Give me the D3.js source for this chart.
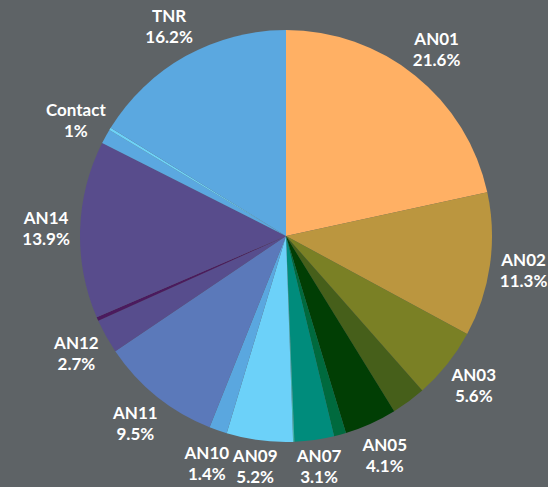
<!DOCTYPE html>
<html>
  <head>
    <meta charset="utf-8">
    <script src="https://d3js.org/d3.v7.min.js"></script>
    <style>
body {
  margin: 0;
  background: #5e6366;
}
#chart text {
  font-family: Lato, "Open Sans", sans-serif;
  font-weight: 700;
  font-size: 17px;
  fill: #fff;
}
    </style>
  </head>
  <body>
    <svg id="chart" width="548" height="487"></svg>
    <script>
// slices, clockwise from 12 o'clock
var categories = ["AN01", "AN02", "AN03", "AN04", "AN05", "AN06", "AN07", "AN08",
                  "AN09", "AN10", "AN11", "AN12", "AN13", "AN14", "Contact", "Other", "TNR"];
var values = [21.6, 11.3, 5.6, 2.7, 4.1, 0.95, 3.1, 0.1,
              5.2, 1.4, 9.5, 2.7, 0.3, 13.9, 1.15, 0.2, 16.2];
// text shown under each name (null = no label drawn)
var percentLabels = ["21.6%", "11.3%", "5.6%", null, "4.1%", null, "3.1%", null,
                     "5.2%", "1.4%", "9.5%", "2.7%", null, "13.9%", "1%", null, "16.2%"];
var colors = ["#ffb064", "#bb963f", "#7a8025", "#465f1a", "#013e04", "#006a3e", "#008c7c", "#3fb3a6",
              "#6cd1f9", "#5aa7df", "#5b79ba", "#574d8d", "#4b1a5e", "#584c8c", "#5ba8e0", "#6dd3f8", "#5ba8e0"];

var width = 548, height = 487,
    cx = 286, cy = 236,
    radius = 206,
    labelRadius = 240;

var svg = d3.select("#chart");
var g = svg.append("g").attr("transform", "translate(" + cx + "," + cy + ")");

var pie = d3.pie().sort(null).value(function(d) { return d; });
var arcs = pie(values);

var arc = d3.arc().innerRadius(0).outerRadius(radius);
var labelArc = d3.arc().innerRadius(labelRadius).outerRadius(labelRadius);

g.selectAll("path.slice")
    .data(arcs)
  .enter().append("path")
    .attr("class", "slice")
    .attr("d", arc)
    .attr("fill", function(d, i) { return colors[i]; });

var labels = g.selectAll("text.label")
    .data(arcs.filter(function(d) { return percentLabels[d.index] != null; }))
  .enter().append("text")
    .attr("class", "label")
    .attr("text-anchor", "middle")
    .attr("transform", function(d) {
      var p = labelArc.centroid(d);
      // keep the two lines inside the bottom of the canvas
      var y = Math.min(p[1], height - 21 - cy);
      return "translate(" + p[0] + "," + y + ")";
    });

labels.append("tspan")
    .attr("x", 0)
    .attr("y", -4)
    .text(function(d) { return categories[d.index]; });

labels.append("tspan")
    .attr("x", 0)
    .attr("y", 17)
    .text(function(d) { return percentLabels[d.index]; });
    </script>
  </body>
</html>
